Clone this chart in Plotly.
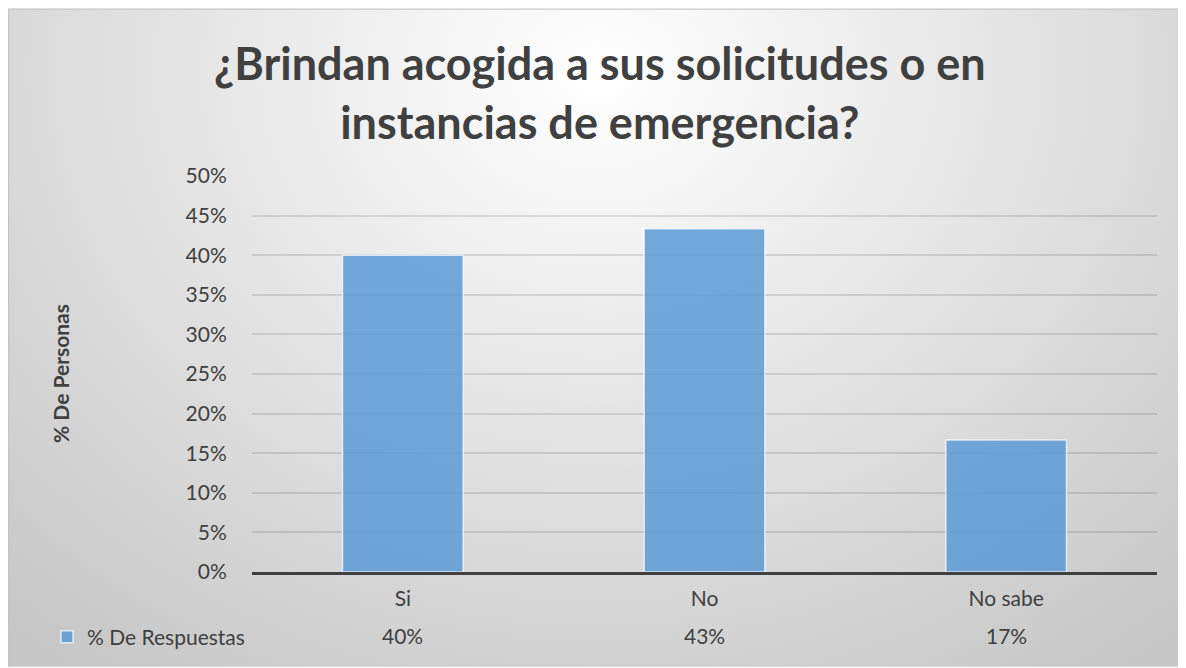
import base64
import plotly.graph_objects as go

# datos
categorias = ["Si", "No", "No sabe"]
respuestas = [0.40, 0.4333, 0.1667]
serie = "% De Respuestas"
titulo = "¿Brindan acogida a sus solicitudes o en<br>instancias de emergencia?"
eje_y = "% De Personas"

# la pagina tiene 8px de margen, asi que la figura mide 8px menos
W, H = 1178, 660
L, R, T, B = 244, 29, 168, 95
pw, ph = W - L - R, H - T - B
FONT = "Lato"
TXT = "#404040"
fila_y = -(629 - (H - B)) / ph

# fondo con degradado radial (como en Excel)
svg = f"""<svg xmlns='http://www.w3.org/2000/svg' width='{W}' height='{H}'>
<defs><radialGradient id='g' cx='0.5' cy='0.1' r='0.75' gradientUnits='objectBoundingBox'
 gradientTransform='translate(0.5,0.1) scale(1,1.5) translate(-0.5,-0.1)'>
<stop offset='0' stop-color='#ffffff'/>
<stop offset='0.3' stop-color='#eeeeee'/>
<stop offset='1' stop-color='#c6c6c6'/>
</radialGradient></defs>
<rect width='{W}' height='{H}' fill='url(#g)'/>
<rect x='0.5' y='0.5' width='{W}' height='{H}' fill='none' stroke='#c4c4c4' stroke-width='1.5'/>
</svg>"""
src = "data:image/svg+xml;base64," + base64.b64encode(svg.encode()).decode()

fig = go.Figure()
fig.add_trace(go.Bar(
    name=serie, x=categorias, y=respuestas, width=0.4,
    marker=dict(color="rgba(91,155,213,0.85)",
                line=dict(color="rgba(255,255,255,0.7)", width=1.5)),
))

# fila de la tabla de datos
anots = []
for c, v in zip(categorias, respuestas):
    anots.append(dict(x=c, y=fila_y, xref="x", yref="paper",
                      xanchor="center", yanchor="middle",
                      text=f"{v:.0%}", showarrow=False,
                      font=dict(family=FONT, size=21, color=TXT)))
anots.append(dict(x=(592 - L) / pw, y=1 + (T - 84) / ph, xref="paper", yref="paper",
                  xanchor="center", yanchor="middle",
                  text=f"<b>{titulo}</b>", showarrow=False,
                  font=dict(family=FONT, size=45, color=TXT)))
anots.append(dict(x=(52 - L) / pw, y=0.5, xref="paper", yref="paper",
                  xanchor="center", yanchor="middle",
                  text=f"<b>{eje_y}</b>", textangle=-90, showarrow=False,
                  font=dict(family=FONT, size=21, color=TXT)))

fig.update_layout(
    width=W, height=H,
    margin=dict(l=L, r=R, t=T, b=B),
    paper_bgcolor="rgba(0,0,0,0)",
    plot_bgcolor="rgba(0,0,0,0)",
    images=[dict(source=src, xref="paper", yref="paper",
                 x=-L / pw, y=1 + T / ph, sizex=W / pw, sizey=H / ph,
                 xanchor="left", yanchor="top", sizing="stretch", layer="below")],
    annotations=anots,
    showlegend=True,
    legend=dict(x=(39 - L) / pw, y=fila_y, xanchor="left", yanchor="middle",
                bgcolor="rgba(0,0,0,0)", itemwidth=30,
                font=dict(family=FONT, size=21, color=TXT)),
    bargap=0.6,
    font=dict(family=FONT, color=TXT),
)
fig.update_xaxes(showline=True, linecolor="#404040", linewidth=3,
                 ticks="outside", ticklen=6, tickcolor="rgba(0,0,0,0)",
                 showgrid=False, tickfont=dict(family=FONT, size=21, color=TXT))
fig.update_yaxes(range=[0, 0.5], dtick=0.05, tickformat=".0%", showline=False,
                 zeroline=False, gridcolor="rgba(0,0,0,0.11)", gridwidth=1.5,
                 ticks="outside", ticklen=20, tickcolor="rgba(0,0,0,0)",
                 tickfont=dict(family=FONT, size=21, color=TXT))

fig.write_html("out.html")
